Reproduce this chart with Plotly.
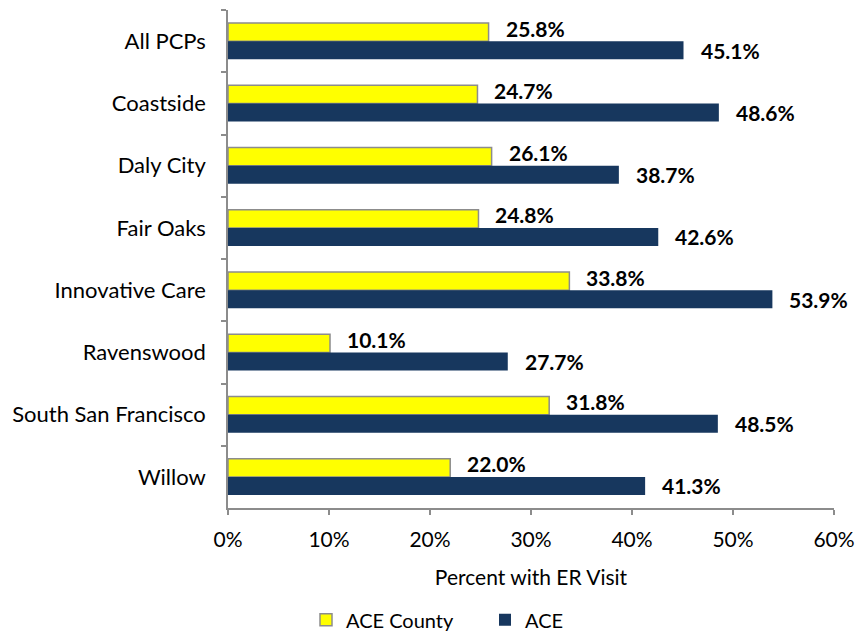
import plotly.graph_objects as go

categories = ["All PCPs", "Coastside", "Daly City", "Fair Oaks", "Innovative Care",
              "Ravenswood", "South San Francisco", "Willow"]
ace_county = [25.8, 24.7, 26.1, 24.8, 33.8, 10.1, 31.8, 22.0]
ace = [45.1, 48.6, 38.7, 42.6, 53.9, 27.7, 48.5, 41.3]
x_ticks = [0, 10, 20, 30, 40, 50, 60]
x_tick_labels = ["0%", "10%", "20%", "30%", "40%", "50%", "60%"]

FONT = "Lato"
BARGAP = 0.42

fig = go.Figure()
fig.add_trace(go.Bar(
    y=categories, x=ace_county, orientation="h", name="ACE County",
    marker=dict(color="#FFFF00", line=dict(color="#8C8C8C", width=1.5)),
))
fig.add_trace(go.Bar(
    y=categories, x=ace, orientation="h", name="ACE",
    marker=dict(color="#17375E", line=dict(color="#17375E", width=0)),
))

bw = (1 - BARGAP) / 2
annotations = []
for i, (a, b) in enumerate(zip(ace_county, ace)):
    annotations.append(dict(x=a, y=i - bw / 2, xref="x", yref="y", text=f"<b>{a:.1f}%</b>",
                            showarrow=False, xanchor="left", yanchor="middle", xshift=15, yshift=4,
                            font=dict(family=FONT, size=21, color="black")))
    annotations.append(dict(x=b, y=i + bw / 2, xref="x", yref="y", text=f"<b>{b:.1f}%</b>",
                            showarrow=False, xanchor="left", yanchor="middle", xshift=15, yshift=0,
                            font=dict(family=FONT, size=21, color="black")))

fig.update_layout(
    width=856, height=635,
    margin=dict(l=228, r=22, t=10, b=127),
    paper_bgcolor="white", plot_bgcolor="white",
    barmode="group", bargap=BARGAP, bargroupgap=0,
    font=dict(family=FONT, size=21, color="black"),
    annotations=annotations,
    legend=dict(orientation="h", xref="container", yref="container",
                x=306 / 856, xanchor="left", y=0.024, yanchor="middle",
                font=dict(family=FONT, size=20), itemwidth=30, traceorder="normal",
                entrywidth=134, entrywidthmode="pixels"),
    xaxis=dict(range=[0, 60], tickvals=x_ticks, ticktext=x_tick_labels, automargin=False,
               showgrid=False, zeroline=False, showline=True, linecolor="#8C8C8C", linewidth=1.5,
               ticks="outside", ticklen=5, tickcolor="#8C8C8C", tickwidth=1.5,
               ticklabelstandoff=7,
               title=dict(text="Percent with ER Visit", font=dict(family=FONT, size=21), standoff=20),
               tickfont=dict(family=FONT, size=21)),
    yaxis=dict(categoryorder="array", categoryarray=categories, autorange="reversed", automargin=False,
               showgrid=False, zeroline=False, showline=True, linecolor="#8C8C8C", linewidth=1.5,
               ticks="outside", ticklen=5, tickcolor="#8C8C8C", tickwidth=1.5, tickson="boundaries",
               ticklabelstandoff=16, tickfont=dict(family=FONT, size=22)),
)

fig.write_html("out.html", config={"displayModeBar": False},
               post_script="document.body.style.margin='0';document.body.style.padding='0';")
